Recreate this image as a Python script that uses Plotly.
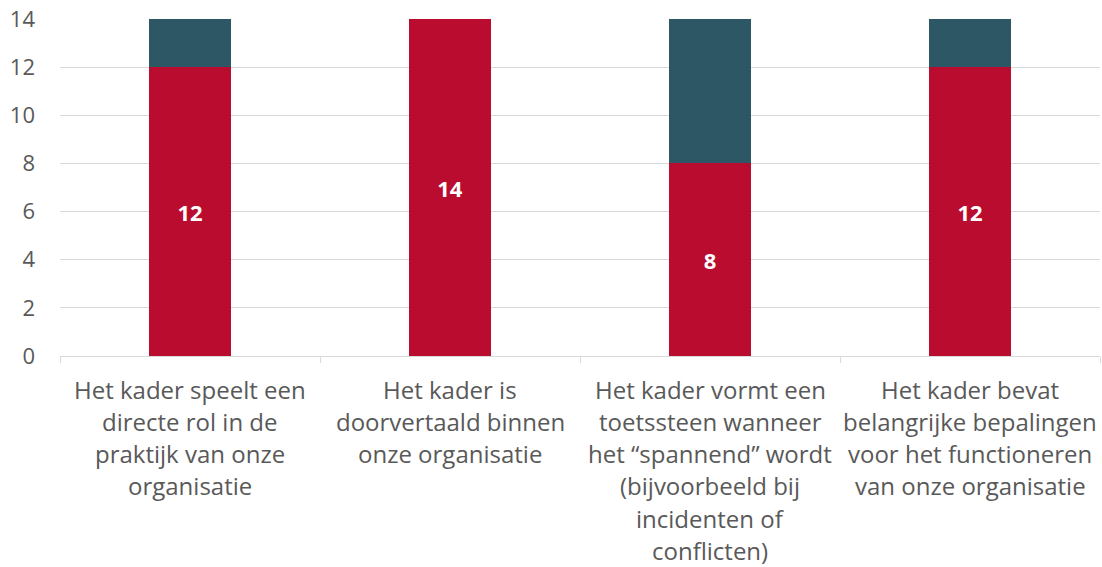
import plotly.graph_objects as go

categories = ["c1", "c2", "c3", "c4"]
label_lines = [
    ["Het kader speelt een", "directe rol in de", "praktijk van onze", "organisatie"],
    ["Het kader is", "doorvertaald binnen", "onze organisatie"],
    ["Het kader vormt een", "toetssteen wanneer", "het “spannend” wordt", "(bijvoorbeeld bij", "incidenten of", "conflicten)"],
    ["Het kader bevat", "belangrijke bepalingen", "voor het functioneren", "van onze organisatie"],
]
red_values = [12, 14, 8, 12]
teal_values = [2, 0, 6, 2]
y_ticks = [0, 2, 4, 6, 8, 10, 12, 14]

RED = "#BA0C2F"
TEAL = "#2E5766"
GREY_TEXT = "#595959"
FONT = "Open Sans"

fig = go.Figure()
fig.add_trace(go.Bar(
    x=categories, y=red_values, marker=dict(color=RED, line=dict(width=0)),
    text=[str(v) for v in red_values], textposition="inside", insidetextanchor="middle",
    textfont=dict(color="white", size=22, family=FONT, weight="bold"),
    width=0.315, showlegend=False, hoverinfo="skip",
))
fig.add_trace(go.Bar(
    x=categories, y=teal_values, marker=dict(color=TEAL, line=dict(width=0)),
    width=0.315, showlegend=False, hoverinfo="skip", textposition="none",
))

for cat, lines in zip(categories, label_lines):
    for i, line in enumerate(lines):
        fig.add_annotation(
            x=cat, y=0, xref="x", yref="y", text=line, showarrow=False,
            yanchor="middle", xanchor="center", yshift=-33 - 32.3 * i,
            font=dict(family=FONT, size=24, color=GREY_TEXT),
        )

fig.update_layout(
    barmode="stack",
    width=1102, height=567,
    margin=dict(l=60, r=2, t=19, b=211),
    plot_bgcolor="white", paper_bgcolor="white",
    font=dict(family=FONT, color=GREY_TEXT, size=22),
    bargap=0.685,
)
fig.update_xaxes(
    showticklabels=False, tickson="boundaries", ticks="outside", ticklen=6,
    tickcolor="#D9D9D9", showline=True, linecolor="#D9D9D9", linewidth=1,
    showgrid=False,
)
fig.update_yaxes(
    range=[0, 14], tickvals=y_ticks, showgrid=True, gridcolor="#D9D9D9",
    gridwidth=1, zeroline=False, showline=False, ticks="",
    tickfont=dict(family=FONT, size=22, color=GREY_TEXT), ticklabelstandoff=24,
)

fig.write_html(
    "out.html",
    config={"displayModeBar": False},
    post_script="document.body.style.margin='0px';document.body.style.overflow='hidden';",
)
